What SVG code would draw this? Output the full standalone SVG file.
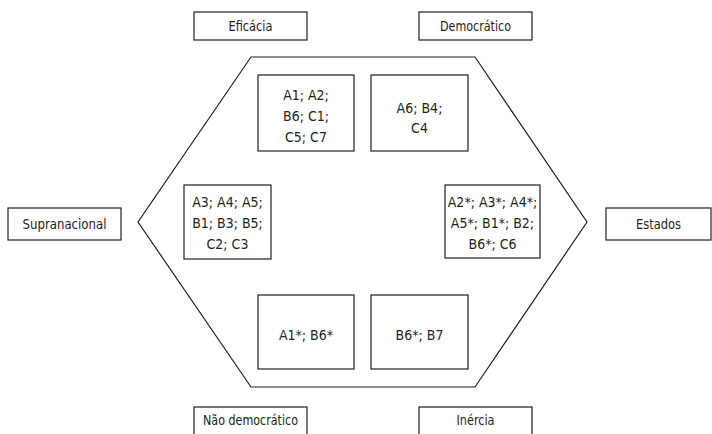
<svg xmlns="http://www.w3.org/2000/svg" width="712" height="434" viewBox="0 0 712 434">
<style>
.b{fill:#fff;stroke:#231f20;stroke-width:1.2}
.t{font-family:"DejaVu Sans Condensed","Liberation Sans",sans-serif;font-size:14px;fill:#231f20;text-anchor:middle}
</style>
<rect width="712" height="434" fill="#fff"/>
<g id="connectors">
<polygon points="251,57 475,57 587,222 475,387 251,387 138,222" fill="none" stroke="#231f20" stroke-width="1.2"/>
</g>
<g id="eficacia"><rect class="b" x="194" y="12" width="113" height="28"/><text class="t" x="250.5" y="31" textLength="44" lengthAdjust="spacingAndGlyphs">Eficácia</text></g>
<g id="democratico"><rect class="b" x="419" y="12" width="113" height="28"/><text class="t" x="475.5" y="31" textLength="71" lengthAdjust="spacingAndGlyphs">Democrático</text></g>
<g id="supranacional"><rect class="b" x="8" y="208" width="113" height="32"/><text class="t" x="64.5" y="229" textLength="84" lengthAdjust="spacingAndGlyphs">Supranacional</text></g>
<g id="estados"><rect class="b" x="606" y="208" width="105" height="32"/><text class="t" x="658.5" y="229" textLength="45" lengthAdjust="spacingAndGlyphs">Estados</text></g>
<g id="nao-democratico"><rect class="b" x="194" y="407" width="113" height="30"/><text class="t" x="250.5" y="425" textLength="95" lengthAdjust="spacingAndGlyphs">Não democrático</text></g>
<g id="inercia"><rect class="b" x="419" y="407" width="113" height="30"/><text class="t" x="475.5" y="425" textLength="38" lengthAdjust="spacingAndGlyphs">Inércia</text></g>
<g id="box-a1"><rect class="b" x="258" y="75" width="96" height="76"/><text class="t" x="306" y="100">A1; A2;</text><text class="t" x="306" y="121">B6; C1;</text><text class="t" x="306" y="142">C5; C7</text></g>
<g id="box-a6"><rect class="b" x="371" y="75" width="97" height="76"/><text class="t" x="419.5" y="113">A6; B4;</text><text class="t" x="419.5" y="133">C4</text></g>
<g id="box-a3"><rect class="b" x="184" y="185" width="87" height="74"/><text class="t" x="227.5" y="207">A3; A4; A5;</text><text class="t" x="227.5" y="228">B1; B3; B5;</text><text class="t" x="227.5" y="249">C2; C3</text></g>
<g id="box-a2s"><rect class="b" x="445" y="185" width="95" height="73"/><text class="t" x="492.5" y="207">A2*; A3*; A4*;</text><text class="t" x="492.5" y="228">A5*; B1*; B2;</text><text class="t" x="492.5" y="249">B6*; C6</text></g>
<g id="box-a1s"><rect class="b" x="258" y="295" width="96" height="74"/><text class="t" x="306" y="340">A1*; B6*</text></g>
<g id="box-b6s"><rect class="b" x="371" y="295" width="97" height="74"/><text class="t" x="419.5" y="340">B6*; B7</text></g>
</svg>
